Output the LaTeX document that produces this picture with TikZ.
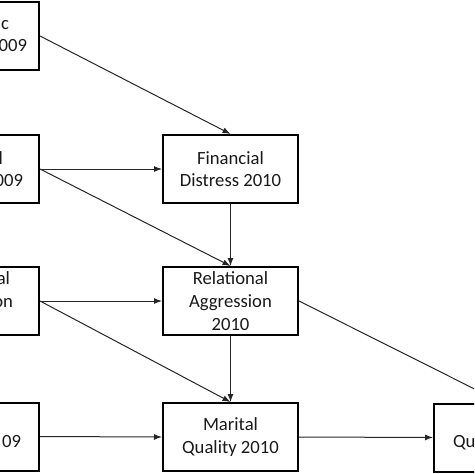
\documentclass[tikz,border=0pt]{standalone}
\usepackage{fontspec}
\setmainfont{Carlito}
\usetikzlibrary{arrows.meta}
\newcommand{\padr}[1]{\rule{#1}{0pt}}
\begin{document}
\begin{tikzpicture}[x=0.75pt,y=-0.75pt,
  box/.style={draw=black,line width=1.5pt,minimum width=101.25pt,minimum height=51pt,inner sep=0pt,align=center,text=black!90,font=\fontsize{14}{17}\selectfont},
  lbox/.style={box,text width=101.25pt,align=right},
  rbox/.style={box,text width=101.25pt,align=left},
  conn/.style={line width=0.75pt,draw=black!85,-{Latex[length=6pt,width=4.5pt]}}]
\useasboundingbox (0,0) rectangle (474,474);
\clip (0,0) rectangle (474,474);
% left column (cut off by the frame)
\node[lbox] (a1) at (-28.5,36) {\raisebox{-2pt}{c\padr{22.5pt}}\\\raisebox{-2pt}{009\padr{9pt}}};
\node[lbox] (a2) at (-28.5,169) {l\padr{27pt}\\009\padr{12pt}};
\node[lbox] (a3) at (-28.5,301) {al\padr{21.75pt}\\on\padr{19.5pt}\\\mbox{}};
\node[lbox] (a4) at (-28.5,436.5) {\mbox{}\\09\padr{13.5pt}};
% middle column
\node[box] (fd) at (230.5,169) {Financial\\Distress 2010};
\node[box] (ra) at (230.5,301) {Relational\\Aggression\\2010};
\node[box] (mq) at (230.5,437) {Marital\\Quality 2010};
% right box (cut off)
\node[rbox] (rb) at (501.5,437.5) {\mbox{}\\\padr{14.25pt}Qu};
% connectors
\draw[conn] (a1.east) -- (fd.north);
\draw[conn] (a2.east) -- (fd.west);
\draw[conn] (a2.east) -- (ra.north);
\draw[conn] (fd.south) -- (ra.north);
\draw[conn] (a3.east) -- (ra.west);
\draw[conn] (a3.east) -- (mq.north);
\draw[conn] (ra.south) -- (mq.north);
\draw[conn] (a4.east) -- (mq.west);
\draw[conn] (mq.east) -- (rb.west);
\draw[conn] (ra.east) -- (rb.north);
\end{tikzpicture}
\end{document}
